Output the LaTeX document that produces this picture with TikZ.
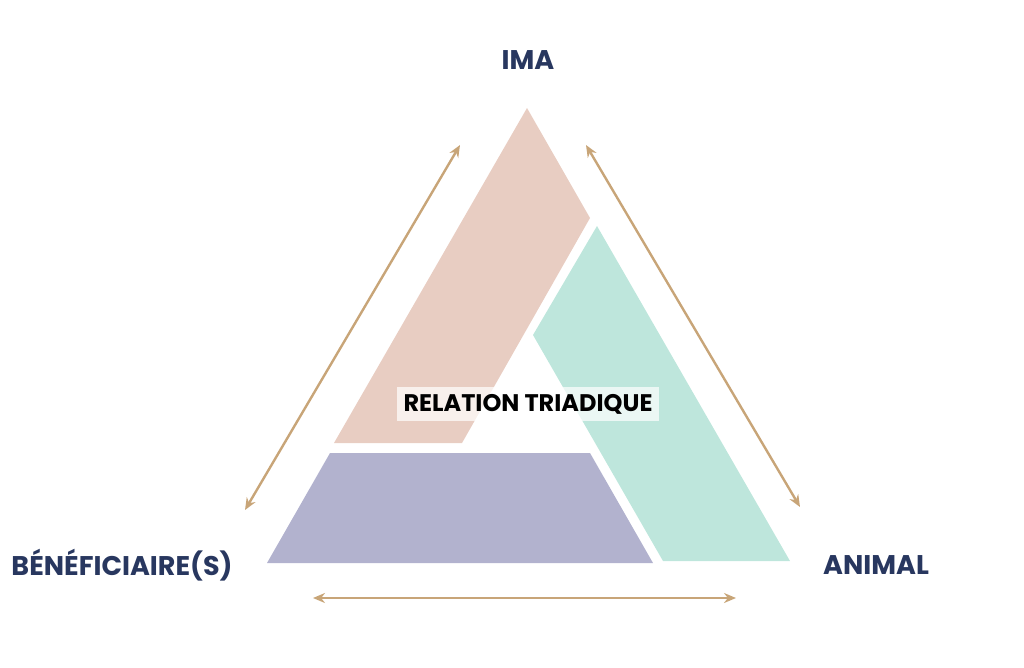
\documentclass[tikz,border=0pt]{standalone}
\usepackage{fontspec}
\setmainfont{Poppins}
\usetikzlibrary{arrows.meta}
\definecolor{marine}{RGB}{40, 55, 95}
\definecolor{sable}{RGB}{200, 165, 120}
\definecolor{rose}{RGB}{232, 205, 194}
\definecolor{menthe}{RGB}{190, 230, 220}
\definecolor{lavande}{RGB}{178, 178, 206}
\tikzset{
    pole/.style={text=marine, font=\bfseries\fontsize{27}{30}\selectfont},
    lien/.style={{Stealth[length=12pt,width=10pt]}-{Stealth[length=12pt,width=10pt]}, sable, line width=2.4pt},
    centre/.style={fill=white, fill opacity=0.7, text opacity=1, text=black, font=\bfseries\fontsize{24}{28}\selectfont, inner sep=7pt},
}
\begin{document}
\begin{tikzpicture}[x=1pt, y=-1pt]
        \useasboundingbox (0,0) rectangle (1024,667);
        \fill[rose] (527,108) -- (590,218) -- (462,443) -- (334,443) -- cycle;
        \fill[menthe] (597,226) -- (790,561) -- (663,561) -- (533,335) -- cycle;
        \fill[lavande] (330,453) -- (590,453) -- (653,563) -- (267,563) -- cycle;

        \node[centre] (rel) at (528,404) {RELATION TRIADIQUE};

        \node[pole] (ima) at (528,60) {IMA};
        \node[pole] (benef) at (122,565) {BÉNÉFICIAIRE(S)};
        \node[pole] (anim) at (876,565) {ANIMAL};

        \coordinate (g1) at (245,510);
        \coordinate (g2) at (460,145);
        \coordinate (d1) at (586,145);
        \coordinate (d2) at (800,507);
        \coordinate (b1) at (313,598);
        \coordinate (b2) at (736,598);

        \draw[lien] (g1) -- (g2);
        \draw[lien] (d1) -- (d2);
        \draw[lien] (b1) -- (b2);
\end{tikzpicture}
\end{document}
